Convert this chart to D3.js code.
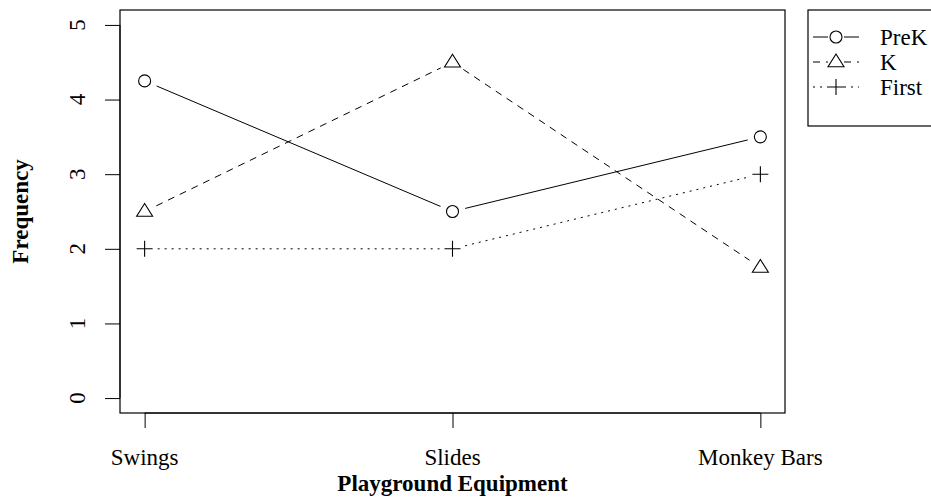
<!DOCTYPE html>
<html>
<head>
<meta charset="utf-8">
<script src="https://cdn.jsdelivr.net/npm/d3@7"></script>
<style>
  body { margin: 0; background: #fff; }
  text { font-family: "Liberation Serif", "Times New Roman", serif; fill: #000; }
</style>
</head>
<body>
<div id="chart"></div>
<script>
(function () {
  var categories = ['Swings', 'Slides', 'Monkey Bars'];
  var preK = [4.25, 2.5, 3.5];
  var kinder = [2.5, 4.5, 1.75];
  var first = [2, 2, 3];
  var yTicks = [0, 1, 2, 3, 4, 5];
  var seriesNames = ['PreK', 'K', 'First'];

  var width = 931, height = 499;
  var box = { left: 120, right: 785, top: 10, bottom: 413 };
  var fontSize = 23;

  var svg = d3.select('#chart').append('svg')
        .attr('width', width)
        .attr('height', height);

  // R style: 4% extension on both axes
  var x = d3.scaleLinear()
        .domain([-0.08, categories.length - 1 + 0.08])
        .range([box.left, box.right]);

  var y = d3.scaleLinear()
        .domain([-0.2, 5.2])
        .range([box.bottom, box.top]);

  var series = [
    { name: seriesNames[0], values: preK, dash: null, shape: 'circle' },
    { name: seriesNames[1], values: kinder, dash: '7,6', shape: 'triangle' },
    { name: seriesNames[2], values: first, dash: '2,5', shape: 'plus' }
  ];

  // plot frame
  svg.append('rect')
    .attr('x', box.left)
    .attr('y', box.top)
    .attr('width', box.right - box.left)
    .attr('height', box.bottom - box.top)
    .attr('fill', 'none')
    .attr('stroke', '#000')
    .attr('stroke-width', 1.2);

  // y axis
  var yAxis = svg.append('g').attr('transform', 'translate(' + box.left + ',0)')
        .call(d3.axisLeft(y).tickValues(yTicks).tickSize(15).tickFormat(''));
  yAxis.select('.domain')
    .attr('d', 'M0,' + y(0) + 'V' + y(5));
  yAxis.selectAll('line').attr('stroke', '#000');

  svg.selectAll('.ylab')
    .data(yTicks)
    .enter().append('text')
    .attr('class', 'ylab')
    .attr('transform', function (d) { return 'translate(85,' + y(d) + ') rotate(-90)'; })
    .attr('text-anchor', 'middle')
    .style('font-size', fontSize + 'px')
    .text(function (d) { return d; });

  // x axis
  var xAxis = svg.append('g').attr('transform', 'translate(0,' + box.bottom + ')')
        .call(d3.axisBottom(x).tickValues(d3.range(categories.length)).tickSize(15).tickFormat(''));
  xAxis.select('.domain')
    .attr('d', 'M' + x(0) + ',0H' + x(categories.length - 1));
  xAxis.selectAll('line').attr('stroke', '#000');

  svg.selectAll('.xlab')
    .data(categories)
    .enter().append('text')
    .attr('class', 'xlab')
    .attr('x', function (d, i) { return x(i); })
    .attr('y', 465)
    .attr('text-anchor', 'middle')
    .style('font-size', fontSize + 'px')
    .text(function (d) { return d; });

  // axis titles
  svg.append('text')
    .attr('x', (box.left + box.right) / 2)
    .attr('y', 491)
    .attr('text-anchor', 'middle')
    .style('font-size', fontSize + 'px')
    .style('font-weight', 'bold')
    .text('Playground Equipment');

  svg.append('text')
    .attr('transform', 'translate(28,' + (box.top + box.bottom) / 2 + ') rotate(-90)')
    .attr('text-anchor', 'middle')
    .style('font-size', fontSize + 'px')
    .style('font-weight', 'bold')
    .text('Frequency');

  function drawMarker (g, shape, cx, cy) {
    if (shape === 'circle') {
      g.append('circle')
        .attr('cx', cx).attr('cy', cy).attr('r', 6)
        .attr('fill', 'none').attr('stroke', '#000').attr('stroke-width', 1.1);
    } else if (shape === 'triangle') {
      var s = 8;
      g.append('path')
        .attr('d', 'M' + cx + ',' + (cy - s) + 'L' + (cx + s) + ',' + (cy + s * 0.6) +
              'L' + (cx - s) + ',' + (cy + s * 0.6) + 'Z')
        .attr('fill', 'none').attr('stroke', '#000').attr('stroke-width', 1.1);
    } else {
      var p = 8;
      g.append('path')
        .attr('d', 'M' + (cx - p) + ',' + cy + 'H' + (cx + p) + 'M' + cx + ',' + (cy - p) + 'V' + (cy + p))
        .attr('fill', 'none').attr('stroke', '#000').attr('stroke-width', 1.1);
    }
  }

  // lines with gaps around the points (type = "b")
  var gap = 13;
  series.forEach(function (s) {
    var g = svg.append('g');
    for (var i = 0; i < s.values.length - 1; i++) {
      var x1 = x(i), y1 = y(s.values[i]);
      var x2 = x(i + 1), y2 = y(s.values[i + 1]);
      var len = Math.sqrt((x2 - x1) * (x2 - x1) + (y2 - y1) * (y2 - y1));
      var ux = (x2 - x1) / len, uy = (y2 - y1) / len;
      g.append('line')
        .attr('x1', x1 + ux * gap).attr('y1', y1 + uy * gap)
        .attr('x2', x2 - ux * gap).attr('y2', y2 - uy * gap)
        .attr('stroke', '#000')
        .attr('stroke-width', 1)
        .attr('stroke-dasharray', s.dash);
    }
    s.values.forEach(function (v, i) {
      drawMarker(g, s.shape, x(i), y(v));
    });
  });

  // legend
  var legend = svg.append('g');
  legend.append('rect')
    .attr('x', 808).attr('y', 10)
    .attr('width', 140).attr('height', 116)
    .attr('fill', 'none').attr('stroke', '#000').attr('stroke-width', 1.2);

  series.forEach(function (s, i) {
    var ly = 37 + i * 25;
    var mx = 836;
    legend.append('line')
      .attr('x1', 813).attr('x2', mx - 8).attr('y1', ly).attr('y2', ly)
      .attr('stroke', '#000').attr('stroke-dasharray', s.dash);
    legend.append('line')
      .attr('x1', mx + 8).attr('x2', 859).attr('y1', ly).attr('y2', ly)
      .attr('stroke', '#000').attr('stroke-dasharray', s.dash);
    drawMarker(legend, s.shape, mx, ly);
    legend.append('text')
      .attr('x', 880).attr('y', ly + 8)
      .style('font-size', fontSize + 'px')
      .text(s.name);
  });
})();
</script>
</body>
</html>
